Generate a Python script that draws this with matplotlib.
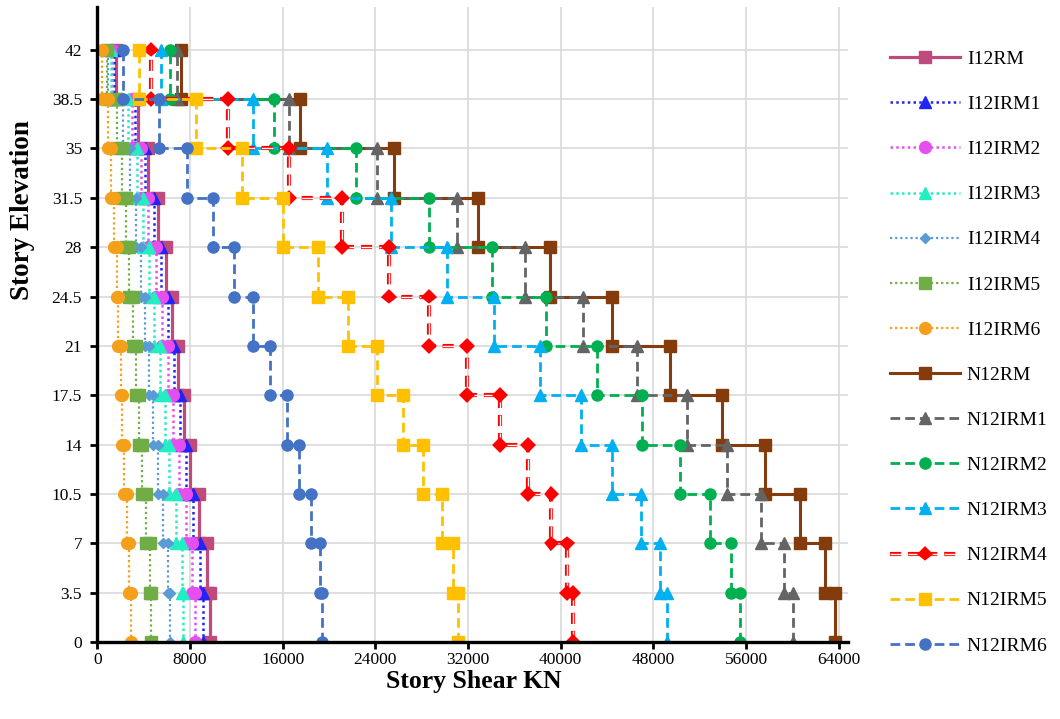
import numpy as np
import matplotlib
matplotlib.use("Agg")
import matplotlib.pyplot as plt
import matplotlib.patheffects as pe

# story elevations (m) and storey shear (kN), storey 1 (bottom) -> storey 12 (top)
elevations = [0, 3.5, 7, 10.5, 14, 17.5, 21, 24.5, 28, 31.5, 35, 38.5, 42]

i12rm = [9730, 9440, 8780, 8000, 7510, 6990, 6420, 5900, 5210, 4400, 3540, 1590]
i12irm1 = [9150, 8860, 8290, 7630, 7140, 6620, 6080, 5500, 4870, 4120, 3250, 1440]
i12irm2 = [8430, 8200, 7630, 7050, 6560, 6080, 5560, 5040, 4400, 3770, 2970, 1300]
i12irm3 = [7420, 7340, 6770, 6190, 5840, 5410, 4920, 4460, 3970, 3400, 2680, 1160]
i12irm4 = [6270, 6130, 5700, 5210, 4830, 4460, 4120, 3740, 3310, 2820, 2240, 950]
i12irm5 = [4630, 4550, 4200, 3830, 3600, 3340, 3050, 2760, 2480, 2100, 1670, 810]
i12irm6 = [2880, 2760, 2590, 2330, 2160, 2020, 1810, 1670, 1470, 1160, 950, 430]

n12rm = [63670, 62800, 60640, 57650, 53910, 49420, 44390, 39070, 32830, 25630, 17490, 7220]
n12irm1 = [60060, 59260, 57250, 54370, 50860, 46600, 41890, 36910, 31010, 24160, 16540, 6900]
n12irm2 = [55460, 54740, 52930, 50280, 47030, 43150, 38720, 34090, 28620, 22320, 15270, 6270]
n12irm3 = [49140, 48560, 46890, 44470, 41710, 38200, 34260, 30200, 25320, 19790, 13460, 5500]
n12irm4 = [41080, 40560, 39200, 37190, 34750, 31880, 28650, 25200, 21140, 16550, 11310, 4630]
n12irm5 = [31150, 30720, 29720, 28130, 26350, 24110, 21660, 19070, 16050, 12510, 8520, 3600]
n12irm6 = [19420, 19220, 18440, 17430, 16340, 14900, 13410, 11800, 9960, 7770, 5350, 2250]

x_ticks = [0, 8000, 16000, 24000, 32000, 40000, 48000, 56000, 64000]
y_tick_labels = ["0", "3.5", "7", "10.5", "14", "17.5", "21", "24.5", "28",
                 "31.5", "35", "38.5", "42"]

DOT = (0, (1, 1.3))
DASH = (0, (3.5, 1.8))

series = [
    ("I12RM", i12rm, dict(color="#BE4B7B", ls="-", lw=2.3, marker="s", ms=8.5)),
    ("I12IRM1", i12irm1, dict(color="#2323F5", ls=DOT, lw=1.8, marker="^", ms=8.5)),
    ("I12IRM2", i12irm2, dict(color="#E54FF0", ls=DOT, lw=1.8, marker="o", ms=8.5)),
    ("I12IRM3", i12irm3, dict(color="#22EEC2", ls=DOT, lw=1.8, marker="^", ms=8.5)),
    ("I12IRM4", i12irm4, dict(color="#5B9BD5", ls=DOT, lw=1.6, marker="D", ms=5.5)),
    ("I12IRM5", i12irm5, dict(color="#70AD47", ls=DOT, lw=1.6, marker="s", ms=8.5)),
    ("I12IRM6", i12irm6, dict(color="#F5A01A", ls=DOT, lw=1.6, marker="o", ms=8.5)),
    ("N12RM", n12rm, dict(color="#843C0C", ls="-", lw=2.2, marker="s", ms=8.5)),
    ("N12IRM1", n12irm1, dict(color="#646464", ls=DASH, lw=2.0, marker="^", ms=8)),
    ("N12IRM2", n12irm2, dict(color="#00B050", ls=DASH, lw=2.0, marker="o", ms=8)),
    ("N12IRM3", n12irm3, dict(color="#00B0F0", ls=DASH, lw=2.0, marker="^", ms=8)),
    ("N12IRM4", n12irm4, dict(color="#FF0000", ls=(0, (8, 5)), lw=1.0, marker="D", ms=5)),
    ("N12IRM5", n12irm5, dict(color="#FFC000", ls=DASH, lw=2.0, marker="s", ms=8.5)),
    ("N12IRM6", n12irm6, dict(color="#4472C4", ls=DASH, lw=2.0, marker="o", ms=8)),
]


def step_points(shear):
    # each storey is a vertical segment from its floor to its roof
    xs, ys = [], []
    for k, v in enumerate(shear):
        xs += [v, v]
        ys += [elevations[k], elevations[k + 1]]
    return xs, ys


plt.rcParams["font.family"] = ["Liberation Serif", "DejaVu Serif"]

fig = plt.figure(figsize=(10.6, 7.19), dpi=100)
ax = fig.add_axes([0.0918, 0.1067, 0.7082, 0.8833])

for name, shear, st in series:
    xs, ys = step_points(shear)
    if name == "N12IRM4":
        ax.plot(xs, ys, color="white", linestyle=st["ls"], linewidth=st["lw"],
                marker=st["marker"], markersize=st["ms"], markerfacecolor="red",
                markeredgecolor="red", label=name,
                path_effects=[pe.Stroke(linewidth=3.0, foreground="red"), pe.Normal()])
    else:
        ax.plot(xs, ys, color=st["color"], linestyle=st["ls"], linewidth=st["lw"],
                marker=st["marker"], markersize=st["ms"], markerfacecolor=st["color"],
                markeredgecolor=st["color"], label=name)

ax.set_xlim(0, 64800)
ax.set_ylim(0, 45)
ax.set_xticks(x_ticks)
ax.set_xticklabels([str(v) for v in x_ticks])
ax.set_yticks(elevations)
ax.set_yticklabels(y_tick_labels)
ax.tick_params(axis="both", labelsize=12.5, width=2, length=5, color="black")
ax.tick_params(axis="x", pad=2)
ax.tick_params(axis="y", pad=6)

ax.grid(True, color="#D9D9D9", linewidth=1.2)
ax.set_axisbelow(True)
for side in ["top", "right"]:
    ax.spines[side].set_visible(False)
for side in ["left", "bottom"]:
    ax.spines[side].set_linewidth(2.4)
    ax.spines[side].set_color("black")

ax.set_xlabel("Story Shear KN", fontsize=18.5, fontweight="bold")
ax.set_ylabel("Story Elevation", fontsize=19.5, fontweight="bold")
ax.xaxis.set_label_coords(0.502, -0.043)
ax.yaxis.set_label_coords(-0.083, 0.68)

ax.legend(loc="upper left", bbox_to_anchor=(0.84, 0.930), bbox_transform=fig.transFigure,
          frameon=False, fontsize=14, handlelength=3.6, handletextpad=0.33,
          labelspacing=1.415, borderpad=0, borderaxespad=0, numpoints=1)

fig.savefig("out.png", dpi=100)
